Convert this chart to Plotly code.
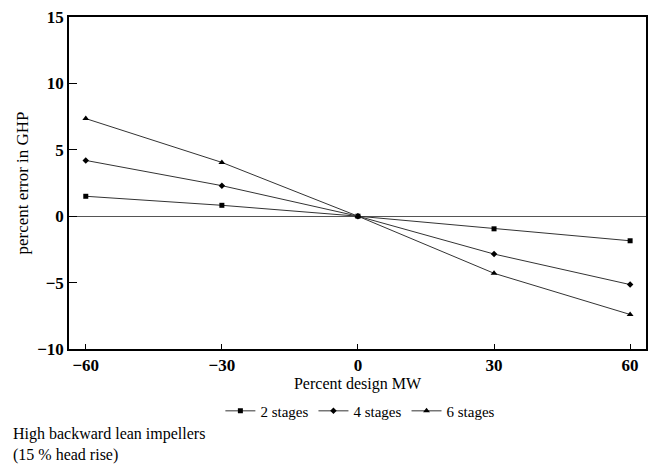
import plotly.graph_objects as go

# Percent deviation from design molecular weight
design_mw = [-60, -30, 0, 30, 60]

# Percent error in gas horsepower for each stage count
err_2_stages = [1.5, 0.82, 0.0, -0.95, -1.85]
err_4_stages = [4.2, 2.3, 0.0, -2.85, -5.15]
err_6_stages = [7.35, 4.05, 0.0, -4.3, -7.4]

series = [
    ("2 stages", err_2_stages, "square", 5),
    ("4 stages", err_4_stages, "diamond", 5),
    ("6 stages", err_6_stages, "triangle-up", 6),
]

serif = "Liberation Serif, Times New Roman, serif"

fig = go.Figure()
for name, vals, sym, size in series:
    fig.add_trace(go.Scatter(
        x=design_mw, y=vals, name=name, mode="lines+markers",
        line=dict(color="#333333", width=1),
        marker=dict(symbol=sym, size=size, color="black"),
    ))

fig.update_layout(
    width=655, height=464,
    margin=dict(l=69, r=7, t=17, b=115),
    paper_bgcolor="white", plot_bgcolor="white",
    font=dict(family=serif, color="black", size=15),
    showlegend=True,
    legend=dict(
        orientation="h", x=0.505, xanchor="center", y=-0.187, yanchor="middle",
        font=dict(family=serif, size=15), itemwidth=30,
        bgcolor="rgba(0,0,0,0)",
    ),
)

fig.update_xaxes(
    range=[-63.7, 63.5],
    tickvals=[-60, -30, 0, 30, 60],
    ticks="inside", ticklen=5, tickcolor="black", tickwidth=1,
    showline=True, linecolor="black", linewidth=1.5, mirror=True,
    showgrid=False, zeroline=False,
    tickfont=dict(family=serif, size=17, weight="bold"),
    title=dict(text="Percent design MW", font=dict(family=serif, size=16), standoff=4),
)
fig.update_yaxes(
    range=[-10, 15],
    tickvals=[-10, -5, 0, 5, 10, 15],
    ticks="inside", ticklen=8, tickcolor="black", tickwidth=1,
    showline=True, linecolor="black", linewidth=1.5, mirror=True,
    showgrid=False, zeroline=True, zerolinecolor="#555555", zerolinewidth=1,
    tickfont=dict(family=serif, size=17, weight="bold"),
    title=dict(text="percent error in GHP", font=dict(family=serif, size=17), standoff=4),
)

fig.add_annotation(
    text="High backward lean impellers<br>(15 % head rise)",
    xref="paper", yref="paper", x=-0.1, y=-0.222,
    xanchor="left", yanchor="top", align="left", showarrow=False,
    font=dict(family=serif, size=16),
)

fig.write_html("out.html")
